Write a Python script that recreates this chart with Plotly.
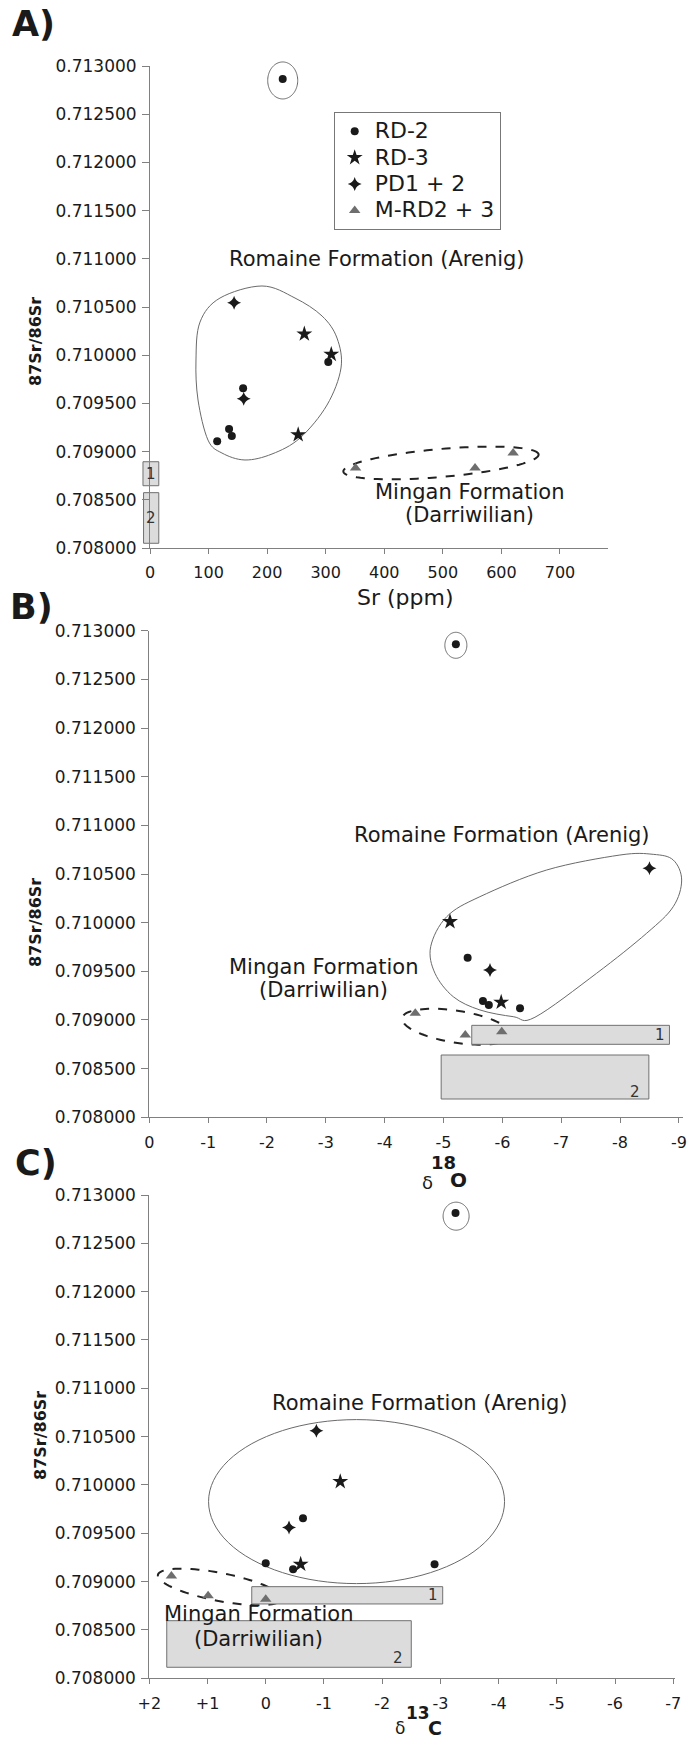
import numpy as np
import plotly.graph_objects as go

W, H = 694, 1744
FONT = "DejaVu Sans"
INK = "#1a1a1a"
AXIS = "#808080"

# ------------------------------------------------------------------
# Data
# ------------------------------------------------------------------
# Panel A : Sr (ppm) vs 87Sr/86Sr
A_rd2_x = [226.6, 304.4, 159.0, 135.0, 139.7, 114.7]
A_rd2_y = [0.712865, 0.709929, 0.709657, 0.709234, 0.709162, 0.709107]
A_rd3_x = [263.5, 309.5, 253.0]
A_rd3_y = [0.710220, 0.710009, 0.709175]
A_pd_x = [143.6, 160.0]
A_pd_y = [0.710545, 0.709549]
A_m_x = [351.0, 555.0, 620.0]
A_m_y = [0.708830, 0.708830, 0.708985]

# Panel B : delta 18O vs 87Sr/86Sr
B_rd2_x = [-5.21, -5.41, -5.67, -5.77, -6.30]
B_rd2_y = [0.712860, 0.709640, 0.709195, 0.709154, 0.709120]
B_rd3_x = [-5.11, -5.98]
B_rd3_y = [0.710010, 0.709182]
B_pd_x = [-8.50, -5.79]
B_pd_y = [0.710559, 0.709514]
B_m_x = [-4.52, -5.37, -5.99]
B_m_y = [0.709069, 0.708846, 0.708880]

# Panel C : delta 13C vs 87Sr/86Sr
C_rd2_x = [-3.26, -0.64, 0.00, -0.47, -2.90]
C_rd2_y = [0.712814, 0.709656, 0.709190, 0.709128, 0.709180]
C_rd3_x = [-1.28, -0.60]
C_rd3_y = [0.710035, 0.709180]
C_pd_x = [-0.87, -0.40]
C_pd_y = [0.710560, 0.709559]
C_m_x = [1.62, 0.99, 0.00]
C_m_y = [0.709059, 0.708855, 0.708818]

# Reference fields (boxes 1 and 2): x0, x1, y0, y1
A_box1 = [-12, 15, 0.708646, 0.708895]
A_box2 = [-11, 15, 0.708049, 0.708574]
B_box1 = [-5.48, -8.84, 0.708750, 0.708945]
B_box2 = [-4.96, -8.49, 0.708188, 0.708640]
C_box1 = [0.24, -3.04, 0.708769, 0.708948]
C_box2 = [1.70, -2.50, 0.708114, 0.708596]

# Group outlines (data coordinates)
A_romaine_outline = [
    (191.2, 0.710718), (247.6, 0.710593), (293.7, 0.710407), (319.3, 0.710178),
    (326.1, 0.709867), (302.2, 0.709483), (256.1, 0.709141), (208.3, 0.708975),
    (162.2, 0.708913), (122.9, 0.708985), (99.0, 0.709120), (82.0, 0.709535),
    (78.5, 0.709950), (85.4, 0.710344), (119.5, 0.710593)]
B_romaine_outline = [
    (-6.554, 0.709028), (-7.602, 0.709480), (-8.452, 0.709891), (-8.904, 0.710164),
    (-9.047, 0.710438), (-8.904, 0.710644), (-8.564, 0.710702), (-7.998, 0.710695),
    (-6.753, 0.710541), (-5.619, 0.710267), (-5.054, 0.710061), (-4.782, 0.709753),
    (-4.855, 0.709480), (-5.166, 0.709239), (-5.619, 0.709103), (-6.185, 0.709034)]
A_outlier_center = (226.6, 0.712850)
B_outlier_center = (-5.21, 0.712850)
C_outlier_center = (-3.27, 0.712781)
A_mingan_center = (496.8, 0.708882)
B_mingan_center = (-5.22, 0.708931)
C_mingan_center = (0.79, 0.708945)
C_romaine_center = (-1.56, 0.709828)

# Tick labels
SR_TICKS = [0, 100, 200, 300, 400, 500, 600, 700]
O_TICKS = [0, -1, -2, -3, -4, -5, -6, -7, -8, -9]
C_TICKS = [2, 1, 0, -1, -2, -3, -4, -5, -6, -7]
C_TICKTEXT = ["+2", "+1", "0", "-1", "-2", "-3", "-4", "-5", "-6", "-7"]
RATIO_TICKS = [0.708, 0.7085, 0.709, 0.7095, 0.710, 0.7105, 0.711, 0.7115, 0.712, 0.7125, 0.713]

# ------------------------------------------------------------------
# Layout geometry (page pixels from top-left)
# ------------------------------------------------------------------
P = {
    "A": dict(xd=(150, 608), yd=(66, 548), xr=(0, 782), yr=(0.708, 0.713), ax=("x", "y")),
    "B": dict(xd=(149.3, 683), yd=(630.7, 1117.3), xr=(0, -9.07), yr=(0.708, 0.713), ax=("x2", "y2")),
    "C": dict(xd=(149.3, 675), yd=(1195, 1678.3), xr=(2, -7.03), yr=(0.708, 0.713), ax=("x3", "y3")),
}


def paper_x(px):
    return px / W


def paper_y(py):
    return 1 - py / H


def fx(p, v):
    r = P[p]["xr"]
    return (v - r[0]) / (r[1] - r[0])


def fy(p, v):
    r = P[p]["yr"]
    return (v - r[0]) / (r[1] - r[0])


def dom_w(p):
    return P[p]["xd"][1] - P[p]["xd"][0]


def dom_h(p):
    return P[p]["yd"][1] - P[p]["yd"][0]


def refs(p):
    xa, ya = P[p]["ax"]
    return dict(xref=xa + " domain", yref=ya + " domain")


shapes = []
annotations = []


def ring(p, center, rx_px, ry_px, angle=0.0, dash=None, width=1.0, color="#6a6a6a"):
    cx = fx(p, center[0]) * dom_w(p)
    cy = fy(p, center[1]) * dom_h(p)
    t = np.linspace(0, 2 * np.pi, 97)
    a = np.deg2rad(angle)
    xs = cx + rx_px * np.cos(t) * np.cos(a) - ry_px * np.sin(t) * np.sin(a)
    ys = cy + rx_px * np.cos(t) * np.sin(a) + ry_px * np.sin(t) * np.cos(a)
    pts = [(x / dom_w(p), y / dom_h(p)) for x, y in zip(xs, ys)]
    path = "M" + " L".join(f"{x:.5f},{y:.5f}" for x, y in pts) + " Z"
    line = dict(color=color, width=width)
    if dash:
        line["dash"] = dash
    shapes.append(dict(type="path", path=path, line=line, layer="below", **refs(p)))


def blob(p, outline, color="#6a6a6a"):
    pts = [(fx(p, x), fy(p, y)) for x, y in outline]
    n = len(pts)
    d = f"M{pts[0][0]:.5f},{pts[0][1]:.5f}"
    for i in range(n):
        p0, p1, p2, p3 = pts[(i - 1) % n], pts[i], pts[(i + 1) % n], pts[(i + 2) % n]
        c1 = (p1[0] + (p2[0] - p0[0]) / 6, p1[1] + (p2[1] - p0[1]) / 6)
        c2 = (p2[0] - (p3[0] - p1[0]) / 6, p2[1] - (p3[1] - p1[1]) / 6)
        d += f" C{c1[0]:.5f},{c1[1]:.5f} {c2[0]:.5f},{c2[1]:.5f} {p2[0]:.5f},{p2[1]:.5f}"
    d += " Z"
    shapes.append(dict(type="path", path=d, line=dict(color=color, width=1), layer="below", **refs(p)))


def box(p, b, label, lx, ly):
    shapes.append(dict(type="rect", x0=fx(p, b[0]), x1=fx(p, b[1]), y0=fy(p, b[2]), y1=fy(p, b[3]),
                       line=dict(color="#707070", width=1), fillcolor="#dcdcdc", layer="below", **refs(p)))
    xa, ya = P[p]["ax"]
    annotations.append(dict(text=label, x=lx, y=ly, xref=xa, yref=ya, showarrow=False,
                            font=dict(family=FONT, size=15, color="#333333"),
                            xanchor="center", yanchor="middle"))


def text(t, px, py, size, bold=False, angle=0, color=INK):
    annotations.append(dict(text=f"<b>{t}</b>" if bold else t, x=paper_x(px), y=paper_y(py),
                            xref="paper", yref="paper", showarrow=False, textangle=angle,
                            font=dict(family=FONT, size=size, color=color),
                            xanchor="center", yanchor="middle"))


# ---- outlines
ring("A", A_outlier_center, 15, 18.5)
ring("B", B_outlier_center, 11, 13)
ring("C", C_outlier_center, 13, 14)
blob("A", A_romaine_outline)
blob("B", B_romaine_outline)
ring("C", C_romaine_center, 148, 82)
ring("A", A_mingan_center, 98, 14, angle=5, dash="dash", width=2, color="#222222")
ring("B", B_mingan_center, 55, 16, angle=-9, dash="dash", width=2, color="#222222")
ring("C", C_mingan_center, 63, 14, angle=-11, dash="dash", width=2, color="#222222")

# ---- boxes
box("A", A_box1, "1", 1.5, (A_box1[2] + A_box1[3]) / 2)
box("A", A_box2, "2", 2.0, (A_box2[2] + A_box2[3]) / 2)
box("B", B_box1, "1", -8.68, (B_box1[2] + B_box1[3]) / 2)
box("B", B_box2, "2", -8.25, 0.708263)
box("C", C_box1, "1", -2.88, (C_box1[2] + C_box1[3]) / 2)
box("C", C_box2, "2", -2.27, 0.708207)

# ---- traces
series = [
    ("RD-2", dict(symbol="circle", size=8, color=INK)),
    ("RD-3", dict(symbol="star", size=12, color=INK)),
    ("PD1 + 2", dict(symbol="star-diamond", size=10, color=INK)),
    ("M-RD2 + 3", dict(symbol="triangle-up", size=10, color="#6e6e6e")),
]
panel_data = {
    "A": [(A_rd2_x, A_rd2_y), (A_rd3_x, A_rd3_y), (A_pd_x, A_pd_y), (A_m_x, A_m_y)],
    "B": [(B_rd2_x, B_rd2_y), (B_rd3_x, B_rd3_y), (B_pd_x, B_pd_y), (B_m_x, B_m_y)],
    "C": [(C_rd2_x, C_rd2_y), (C_rd3_x, C_rd3_y), (C_pd_x, C_pd_y), (C_m_x, C_m_y)],
}

fig = go.Figure()
for p in "ABC":
    xa, ya = P[p]["ax"]
    for (name, mk), (xs, ys) in zip(series, panel_data[p]):
        fig.add_trace(go.Scatter(
            x=xs, y=ys, mode="markers",
            name=f'<span style="font-size:22px">{name}</span>', legendgroup=name,
            showlegend=(p == "A"), xaxis=xa, yaxis=ya, cliponaxis=False,
            marker=dict(**mk, line=dict(width=0)), hoverinfo="skip"))

# ---- text
text("A)", 33, 24, 35, bold=True)
text("B)", 32, 607, 35, bold=True)
text("C)", 36, 1163, 35, bold=True)

text("87Sr/86Sr", 36, 342, 16, bold=True, angle=-90)
text("87Sr/86Sr", 35, 923, 16, bold=True, angle=-90)
text("87Sr/86Sr", 40, 1436, 16, bold=True, angle=-90)

text("Sr (ppm)", 405, 597, 22)
text("δ", 427, 1182, 18)
text("18", 443, 1162, 18, bold=True)
text("O", 458, 1180, 20, bold=True)
text("δ", 400, 1728, 17)
text("13", 418, 1713, 17, bold=True)
text("C", 435, 1728, 19, bold=True)

text("Romaine Formation (Arenig)", 377, 259, 21)
text("Mingan Formation", 469.5, 492, 21)
text("(Darriwilian)", 469.5, 515, 21)
text("Romaine Formation (Arenig)", 502, 835, 21)
text("Mingan Formation", 323, 967, 21)
text("(Darriwilian)", 323, 990, 21)
text("Romaine Formation (Arenig)", 420, 1403, 21)
text("Mingan Formation", 258, 1614, 21)
text("(Darriwilian)", 258, 1639, 21)

# ---- axes
tickfont = dict(family=FONT, size=16, color=INK)


def xaxis_cfg(p, vals, labels):
    d = P[p]
    return dict(domain=[paper_x(d["xd"][0]), paper_x(d["xd"][1])], range=list(d["xr"]),
                anchor=d["ax"][1], tickmode="array", tickvals=vals, ticktext=labels,
                showline=True, linecolor=AXIS, linewidth=1, ticks="outside", ticklen=5,
                tickcolor=AXIS, showgrid=False, zeroline=False, tickfont=tickfont,
                ticklabelstandoff=5, automargin=False)


def yaxis_cfg(p):
    d = P[p]
    return dict(domain=[paper_y(d["yd"][1]), paper_y(d["yd"][0])], range=list(d["yr"]),
                anchor=d["ax"][0], tickmode="array", tickvals=RATIO_TICKS,
                ticktext=[f"{v:.6f}" for v in RATIO_TICKS], showline=True, linecolor=AXIS,
                linewidth=1, ticks="outside", ticklen=7, tickcolor=AXIS, showgrid=False,
                zeroline=False, tickfont=dict(family=FONT, size=17, color=INK),
                ticklabelstandoff=2, automargin=False)


fig.update_layout(
    width=W, height=H, margin=dict(l=0, r=0, t=0, b=0, pad=0, autoexpand=False),
    autosize=False,
    paper_bgcolor="white", plot_bgcolor="white",
    font=dict(family=FONT, color=INK),
    xaxis=xaxis_cfg("A", SR_TICKS, [str(v) for v in SR_TICKS]),
    yaxis=yaxis_cfg("A"),
    xaxis2=xaxis_cfg("B", O_TICKS, [str(v) for v in O_TICKS]),
    yaxis2=yaxis_cfg("B"),
    xaxis3=xaxis_cfg("C", C_TICKS, C_TICKTEXT),
    yaxis3=yaxis_cfg("C"),
    shapes=shapes,
    annotations=annotations,
    legend=dict(x=paper_x(333.7), y=paper_y(112), xanchor="left", yanchor="top",
                bordercolor="#777777", borderwidth=1, bgcolor="white",
                font=dict(family=FONT, size=18, color=INK), tracegroupgap=0),
    showlegend=True,
)

fig.write_html(
    "out.html",
    config={"responsive": False, "displayModeBar": False},
    post_script="document.body.style.margin='0';document.body.style.padding='0';",
)
